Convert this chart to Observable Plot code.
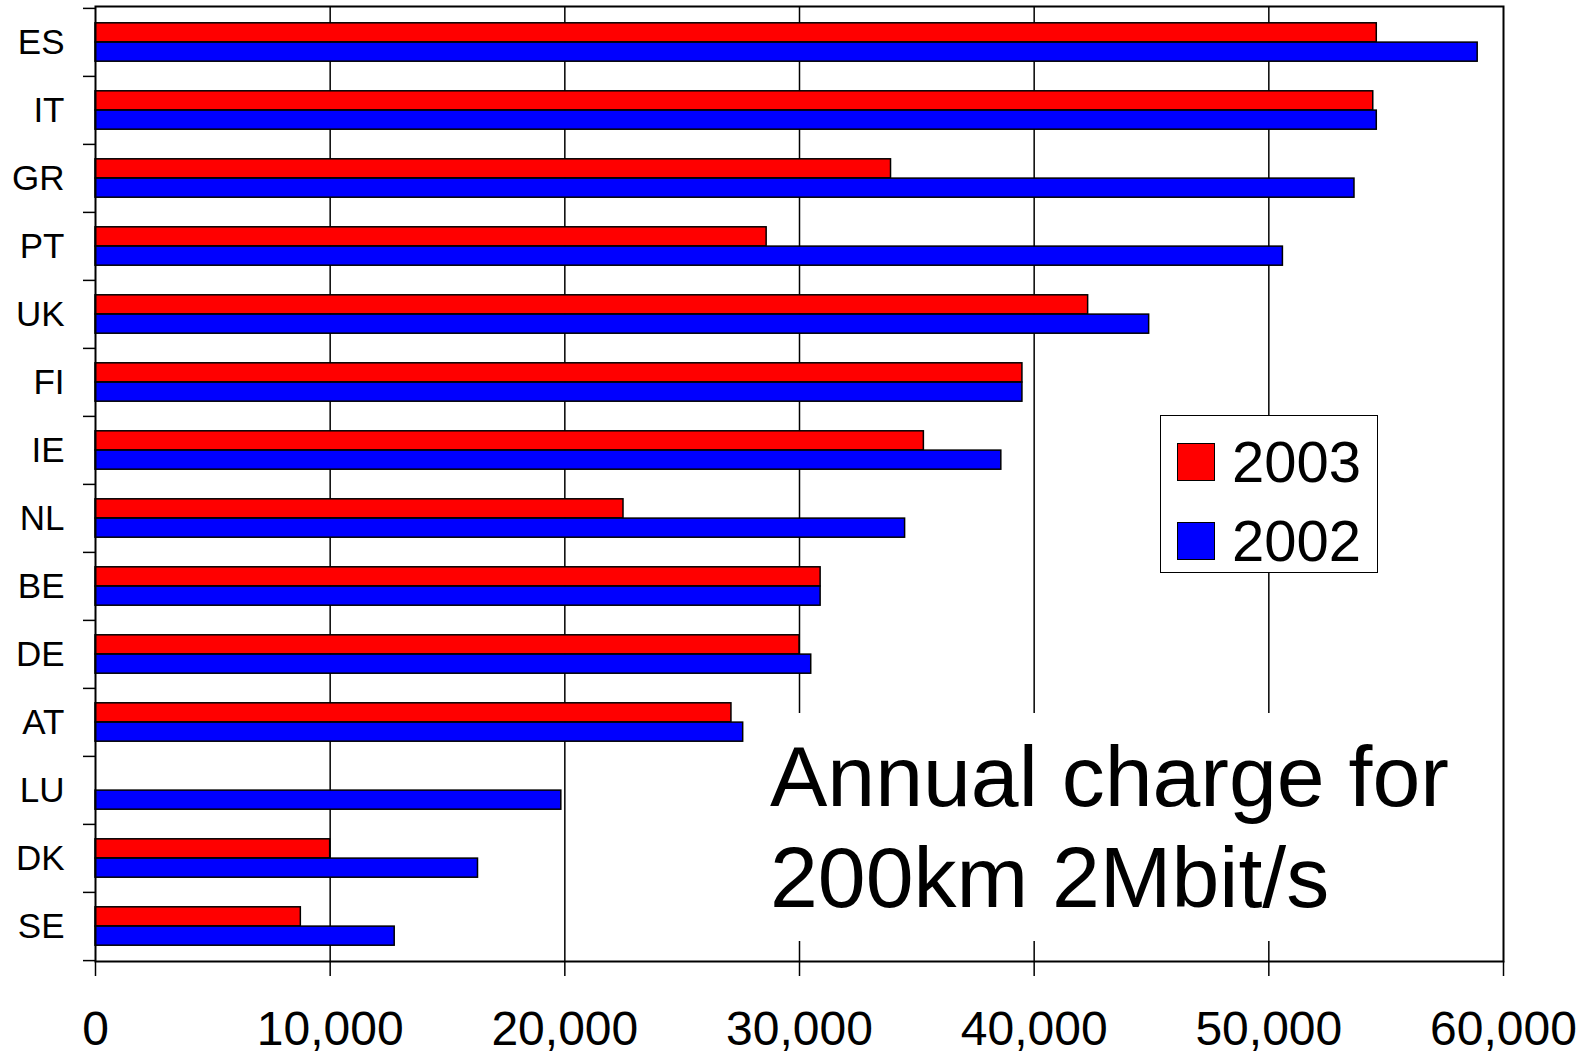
<!DOCTYPE html>
<html><head><meta charset="utf-8">
<script src="https://cdn.jsdelivr.net/npm/d3@7"></script>
<script src="https://cdn.jsdelivr.net/npm/@observablehq/plot@0.6"></script>
<style>
body{margin:0;background:#fff;font-family:"Liberation Sans",Arial,sans-serif;}
#wrap{position:relative;width:1590px;height:1055px;overflow:hidden;}
#note{position:absolute;left:748px;top:713px;padding:13px 30px 13px 22px;background:#fff;font-size:86px;line-height:101px;color:#000;white-space:nowrap;}
#legend{position:absolute;left:1160px;top:415px;width:218px;height:158px;border:1.5px solid #000;box-sizing:border-box;background:#fff;}
.sw{position:absolute;width:38px;height:38px;border:1.5px solid #000;box-sizing:border-box;}
.lt{position:absolute;font-size:58px;line-height:58px;color:#000;white-space:nowrap;}
</style></head>
<body><div id="wrap"><div id="chart"></div><div id="note">Annual charge for<br>200km 2Mbit/s</div><div id="legend"></div></div>
<script>
const countries = ["ES","IT","GR","PT","UK","FI","IE","NL","BE","DE","AT","LU","DK","SE"];
const values2003 = [54600,54450,33900,28600,42300,39500,35300,22500,30900,30000,27100,null,10000,8750];
const values2002 = [58900,54600,53650,50600,44900,39500,38600,34500,30900,30500,27600,19850,16300,12750];
const xTicks = [0,10000,20000,30000,40000,50000,60000];
const years = ["2003","2002"];
const colors = ["#ff0000","#0000ff"];

const W = 1590, H = 1055, mL = 95, mR = 87, mT = 6, mB = 94;
const band = (H - mT - mB) / countries.length;
const rows = countries.map((c, i) => ({country: c, v2003: values2003[i], v2002: values2002[i]}));

const chart = Plot.plot({
  width: W, height: H,
  marginLeft: mL, marginRight: mR, marginTop: mT, marginBottom: mB,
  style: {fontFamily: '"Liberation Sans", Arial, sans-serif', background: "white", color: "black"},
  x: {domain: [0, 60000]},
  y: {domain: countries, padding: 0},
  marks: [
    Plot.ruleX(xTicks.slice(1, -1), {stroke: "#000", strokeWidth: 1.5}),
    Plot.barX(rows.filter(d => d.v2003 != null), {y: "country", x: "v2003", fill: colors[0], stroke: "#000", strokeWidth: 1.5, insetTop: band * 0.217, insetBottom: band * 0.5}),
    Plot.barX(rows, {y: "country", x: "v2002", fill: colors[1], stroke: "#000", strokeWidth: 1.5, insetTop: band * 0.5, insetBottom: band * 0.217}),
    Plot.frame({stroke: "#000", strokeWidth: 2}),
    Plot.axisX(xTicks, {tickSize: 15, tickPadding: 34, tickFormat: d3.format(","), fontSize: 48, strokeWidth: 1.5, label: null}),
    Plot.axisY({tickSize: 0, tickPadding: 31, fontSize: 35, label: null}),
    Plot.axisY(countries, {tickSize: 12, tickFormat: () => "", dy: -band / 2, strokeWidth: 1.5, label: null}),
    Plot.axisY(countries.slice(-1), {tickSize: 12, tickFormat: () => "", dy: band / 2, strokeWidth: 1.5, label: null})
  ]
});
document.getElementById("chart").appendChild(chart);

const legend = document.getElementById("legend");
years.forEach((y, i) => {
  const sw = document.createElement("div");
  sw.className = "sw";
  sw.style.left = "16px"; sw.style.top = (27 + i * 79) + "px";
  sw.style.background = colors[i];
  legend.appendChild(sw);
  const t = document.createElement("div");
  t.className = "lt";
  t.style.left = "71px"; t.style.top = (17 + i * 79) + "px";
  t.textContent = y;
  legend.appendChild(t);
});
</script>
</body></html>
